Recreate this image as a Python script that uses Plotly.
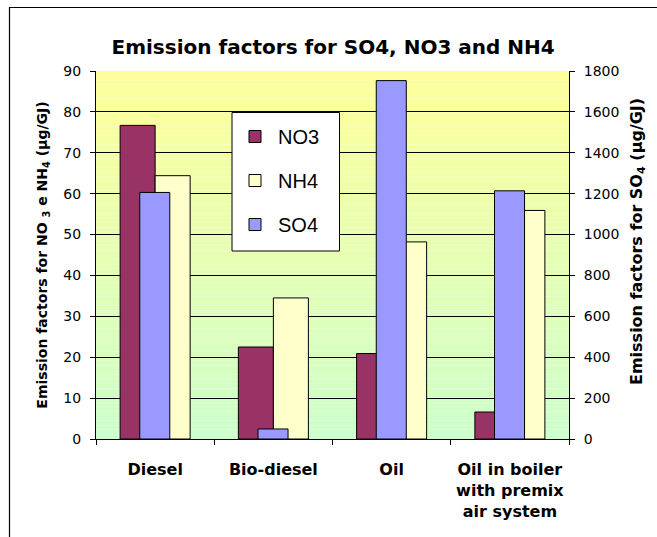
import plotly.graph_objects as go

# ---- data ----
categories = ["Diesel", "Bio-diesel", "Oil", "Oil in boiler<br>with premix<br>air system"]
no3 = [76.7, 22.5, 20.9, 6.6]
nh4 = [64.4, 34.5, 48.2, 55.9]
so4 = [1206, 49, 1753, 1214]
left_ticks = [0, 10, 20, 30, 40, 50, 60, 70, 80, 90]
right_ticks = [0, 200, 400, 600, 800, 1000, 1200, 1400, 1600, 1800]

W, H = 657, 537
L, R, T, B = 96, 88, 71, 98
PW, PH = W - L - R, H - T - B

def px_x(px):
    return (px - L) / PW

def px_y(py):
    return (H - B - py) / PH

SANS = "DejaVu Sans"
ARIAL = "Liberation Sans"

fig = go.Figure()
fig.add_trace(go.Bar(
    x=categories, y=no3, name="NO3", yaxis="y",
    width=0.296, offset=-0.296,
    marker=dict(color="#993366", line=dict(color="black", width=1)),
    legendgroup="a",
))
fig.add_trace(go.Bar(
    x=categories, y=nh4, name="NH4", yaxis="y",
    width=0.296, offset=0.0,
    marker=dict(color="#FFFFCC", line=dict(color="black", width=1)),
    legendgroup="b",
))
fig.add_trace(go.Bar(
    x=categories, y=so4, name="SO4", yaxis="y2",
    width=0.254, offset=-0.13,
    marker=dict(color="#9999FF", line=dict(color="black", width=1)),
    legendgroup="c",
))

# gradient plot background (yellow top -> light green bottom)
shapes = []
N = 80
top = (255, 255, 153)
bot = (204, 255, 204)
for i in range(N):
    t = (i + 0.5) / N
    c = tuple(round(bot[k] + (top[k] - bot[k]) * t) for k in range(3))
    shapes.append(dict(
        type="rect", xref="x domain", yref="y domain",
        x0=0, x1=1, y0=i / N, y1=(i + 1) / N,
        fillcolor="rgb(%d,%d,%d)" % c, line=dict(width=0), layer="below",
    ))
# chart frame (top and left border)
shapes.append(dict(type="line", xref="paper", yref="paper",
                   x0=px_x(9), x1=px_x(657), y0=px_y(7.5), y1=px_y(7.5),
                   line=dict(color="black", width=1.2)))
shapes.append(dict(type="line", xref="paper", yref="paper",
                   x0=px_x(9.5), x1=px_x(9.5), y0=px_y(7), y1=px_y(537),
                   line=dict(color="black", width=1.2)))
# legend box
shapes.append(dict(type="rect", xref="paper", yref="paper",
                   x0=px_x(232), x1=px_x(339.5), y0=px_y(112.5), y1=px_y(251),
                   fillcolor="white", line=dict(color="black", width=1), layer="above"))

fig.update_layout(
    width=W, height=H,
    margin=dict(l=L, r=R, t=T, b=B, autoexpand=False),
    paper_bgcolor="white",
    plot_bgcolor="rgba(0,0,0,0)",
    barmode="overlay",
    shapes=shapes,
    title=dict(
        text="Emission factors for SO4, NO3 and NH4",
        font=dict(family=SANS, size=20, color="black", weight="bold"),
        xref="container", yref="container",
        x=0.507, y=1 - 47 / H, xanchor="center", yanchor="middle",
    ),
    xaxis=dict(
        type="category", range=[-0.5, 3.5],
        showline=True, linecolor="black", linewidth=1,
        ticks="outside", ticklen=5, tickcolor="black", tickson="boundaries",
        showgrid=False, ticklabelstandoff=16,
        tickfont=dict(family=SANS, size=16, color="black", weight="bold"),
        automargin=False,
    ),
    yaxis=dict(
        range=[0, 90], tickvals=left_ticks,
        showline=True, linecolor="black", linewidth=1,
        ticks="outside", ticklen=5, tickcolor="black",
        showgrid=True, gridcolor="black", gridwidth=1,
        zeroline=False, ticklabelstandoff=6,
        tickfont=dict(family=SANS, size=14, color="black"),
        title=dict(text="Emission factors for NO <sub>3</sub> e NH<sub>4</sub> (µg/GJ)",
                   font=dict(family=SANS, size=14, color="black", weight="bold"),
                   standoff=12),
        automargin=False,
    ),
    yaxis2=dict(
        range=[0, 1800], tickvals=right_ticks,
        overlaying="y", side="right",
        showline=True, linecolor="black", linewidth=1,
        ticks="outside", ticklen=5, tickcolor="black",
        showgrid=False, zeroline=False, ticklabelstandoff=6,
        tickfont=dict(family=SANS, size=14, color="black"),
        automargin=False,
    ),
    annotations=[dict(
        text="Emission factors for SO<sub>4</sub> (µg/GJ)",
        font=dict(family=SANS, size=16, color="black", weight="bold"),
        textangle=-90, showarrow=False,
        xref="paper", yref="paper", x=px_x(637), y=px_y(242),
        xanchor="center", yanchor="middle",
    )],
    legend=dict(
        x=px_x(232), y=px_y(117), xanchor="left", yanchor="top",
        bgcolor="rgba(0,0,0,0)", borderwidth=0,
        font=dict(family=ARIAL, size=20, color="black"),
        traceorder="grouped", tracegroupgap=15, itemwidth=36,
    ),
    showlegend=True,
)

fig.write_html("out.html", config={"displayModeBar": False},
               post_script="document.body.style.margin='0';document.body.style.overflow='hidden';")
